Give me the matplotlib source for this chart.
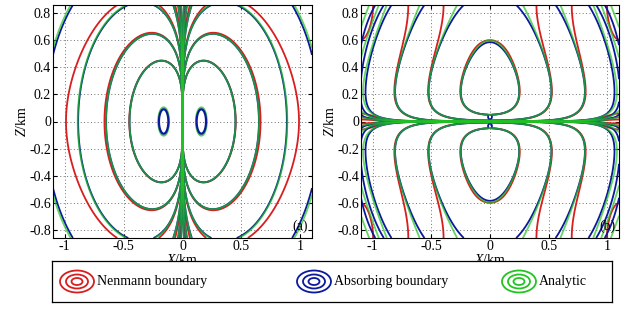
import numpy as np
import matplotlib
matplotlib.use("Agg")
import matplotlib.pyplot as plt
from matplotlib.patches import Ellipse

# ---------------- data ----------------
x_ticks = [-1, -0.5, 0, 0.5, 1]
z_ticks = [-0.8, -0.6, -0.4, -0.2, 0, 0.2, 0.4, 0.6, 0.8]
x_lim = (-1.1, 1.1)
z_lim = (-0.86, 0.86)

# panel (a): points (x, z) through which the analytic contours pass
a_level_x = [0.45, 0.65, 0.89, 1.10, 1.50, 2.20]
a_level_z = [0.0, 0.0, 0.0, 0.54, 0.0, 0.0]
# panel (a): small closed loops next to the source (centre x, half width, half height)
a_src_x = 0.16
a_src_hw = 0.04
a_src_hh = 0.09
# panel (b): points (x, z) through which the analytic contours pass
b_level_x = [0.0, 0.28, 0.60, 0.88, 1.10, 1.10]
b_level_z = [0.60, 0.86, 0.86, 0.86, 0.08, 0.035]

legend_labels = ["Nenmann boundary", "Absorbing boundary", "Analytic"]
panel_tags = ["(a)", "(b)"]

# ---------------- styles ----------------
RED = "#d81e1e"
BLUE = "#0b1a9c"
GREEN = "#22c322"
LW = 1.3
plt.rcParams["font.family"] = ["Liberation Serif", "DejaVu Serif"]
plt.rcParams["mathtext.fontset"] = "custom"
plt.rcParams["mathtext.rm"] = "Liberation Serif"
plt.rcParams["mathtext.it"] = "Liberation Serif:italic"


# ---------------- analytic field models ----------------
def field_a(x, z):
    k = 1.45
    return np.abs(x) / (x ** 2 + (z / k) ** 2 + 1e-4) ** 2


def field_b(x, z):
    az = np.abs(z) + 1e-12
    a0 = 0.221
    x0, beta = 0.3, 13.2
    psi = 2 * beta * x0 ** 2 * (np.sqrt(1 + (x / x0) ** 2) - 1)
    main = az * np.exp(-az / a0 - psi)
    near_axis = 1e-7 * az * np.exp(-az / 0.06 - 1.5 * x ** 2)
    return main + near_axis


def with_images(f, x, z, wx, wz, taper=None):
    X, Z = 1.1, 0.86
    tot = f(x, z)
    for i in (-1, 0, 1):
        for j in (-1, 0, 1):
            if i == 0 and j == 0:
                continue
            xi = x if i == 0 else i * 2 * X - x
            zj = z if j == 0 else j * 2 * Z - z
            w = wx if j == 0 else wz
            if j != 0 and taper is not None:
                w = w * taper
            tot = tot + w * f(xi, zj)
    return tot


# grids: panel (a) refined near x = 0, panel (b) refined near z = 0
t = np.linspace(-1, 1, 1201)
xa = 1.1 * np.sign(t) * np.abs(t) ** 2.5
za = np.linspace(-0.86, 0.86, 701)
XA, ZA = np.meshgrid(xa, za)
xb = np.linspace(-1.1, 1.1, 901)
zb = 0.86 * np.sign(t) * np.abs(t) ** 2
XB, ZB = np.meshgrid(xb, zb)

fig = plt.figure(figsize=(6.42, 3.11), dpi=100)
axa = fig.add_axes([53 / 642, 73 / 311, 259 / 642, 233 / 311])
axb = fig.add_axes([361 / 642, 73 / 311, 258 / 642, 233 / 311])

panels = [
    # ax, field, grid, level pts, blob centre, blob size, Neumann (wx, wz), absorbing w, taper
    (axa, field_a, (XA, ZA), a_level_x, a_level_z, (0.05, 0.0), 0.3, (0.65, 0.0), -0.015, None),
    (axb, field_b, (XB, ZB), b_level_x, b_level_z, (0.0, 0.03), 3.0, (1.0, 1.0), -0.25,
     1 - np.exp(-XB ** 2 / 0.04)),
]
for k, (ax, f, (XX, ZZ), lx, lz, spot, bsz, wn, wa, taper) in enumerate(panels):
    levels = np.sort(np.unique([float(f(np.array(px), np.array(pz))) for px, pz in zip(lx, lz)]))
    Fg = f(XX, ZZ)
    Fn = with_images(f, XX, ZZ, wn[0], wn[1], taper)
    Fa = with_images(f, XX, ZZ, wa, wa)
    blob = np.exp(-(((np.abs(XX) - spot[0]) ** 2 + (np.abs(ZZ) - spot[1]) ** 2) / 0.00012))
    Fa = Fa + blob * levels.max() * bsz
    ax.contour(XX, ZZ, Fn, levels=levels, colors=RED, linewidths=LW)
    ax.contour(XX, ZZ, Fa, levels=levels, colors=BLUE, linewidths=LW)
    ax.contour(XX, ZZ, Fg, levels=levels, colors=GREEN, linewidths=LW, alpha=0.7)

    if k == 0:
        near = np.exp(-(((np.abs(XX) - a_src_x) / a_src_hw) ** 2 + (ZZ / a_src_hh) ** 2))
        ax.contour(XX, ZZ, near, levels=[np.exp(-1.35)], colors=GREEN, linewidths=LW, alpha=0.8)
        ax.contour(XX, ZZ, near, levels=[np.exp(-1.0)], colors=BLUE, linewidths=LW + 0.3)

    ax.set_xlim(*x_lim)
    ax.set_ylim(*z_lim)
    ax.set_xticks(x_ticks)
    ax.set_yticks(z_ticks)
    ax.set_xticklabels(["-1", "-0.5", "0", "0.5", "1"])
    ax.set_yticklabels(["-0.8", "-0.6", "-0.4", "-0.2", "0", "0.2", "0.4", "0.6", "0.8"])
    ax.grid(True, linestyle=(0, (1, 2.5)), color="#707070", linewidth=0.7)
    ax.tick_params(direction="in", top=True, right=True, length=3, labelsize=10, pad=1.5)
    ax.set_xlabel("$X$/km", fontsize=10, labelpad=0)
    ax.set_ylabel("$Z$/km", fontsize=10, labelpad=0)
    for s in ax.spines.values():
        s.set_linewidth(0.8)
    ax.text(1.0, -0.77, panel_tags[k], fontsize=10, ha="center", va="center")

# ---------------- legend box ----------------
lax = fig.add_axes([52 / 642, 9 / 311, 560 / 642, 41 / 311])
lax.set_xlim(0, 560)
lax.set_ylim(0, 41)
lax.set_xticks([])
lax.set_yticks([])
for s in lax.spines.values():
    s.set_linewidth(0.9)
icon_cx = [25, 262, 467]
text_x = [45, 282, 487]
for cx, tx, col, lab in zip(icon_cx, text_x, [RED, BLUE, GREEN], legend_labels):
    for wdt, hgt in [(34, 22), (22, 14), (11, 7)]:
        lax.add_patch(Ellipse((cx, 20.5), wdt, hgt, fill=False, edgecolor=col, linewidth=1.3))
    lax.text(tx, 20.5, lab, fontsize=10, va="center", ha="left")

fig.savefig("out.png", dpi=100)
